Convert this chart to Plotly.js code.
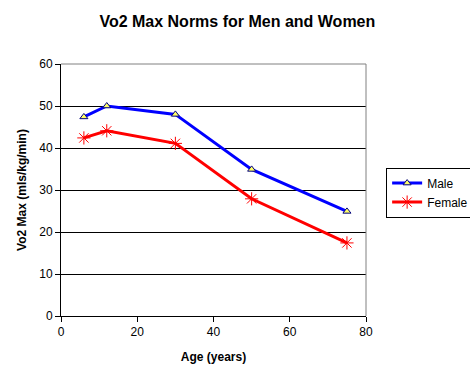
<!DOCTYPE html>
<html>
<head>
<meta charset="utf-8">
<script src="https://cdn.plot.ly/plotly-3.0.1.min.js"></script>
<style>html,body{margin:0;padding:0;background:#fff;}#chart{width:470px;height:381px;}</style>
</head>
<body>
<div id="chart"></div>
<script>
const ages = [6, 12, 30, 50, 75];
const maleVo2 = [47.4, 50, 48, 34.9, 24.9];
const femaleVo2 = [42.4, 44.1, 41.1, 27.9, 17.4];
const xTicks = [0, 20, 40, 60, 80];
const yTicks = [0, 10, 20, 30, 40, 50, 60];

const F = '"Liberation Sans", Arial, sans-serif';
const traces = [
  {x: ages, y: maleVo2, name: 'Male', type: 'scatter', mode: 'lines+markers',
   line: {color: '#0000ff', width: 3},
   marker: {symbol: 'triangle-up', size: 7, color: '#ffff66', line: {color: '#000080', width: 1}}},
  {x: ages, y: femaleVo2, name: 'Female', type: 'scatter', mode: 'lines+markers',
   line: {color: '#ff0000', width: 3},
   marker: {symbol: 'asterisk-open', size: 11, color: '#ff0000', line: {color: '#ff0000', width: 1}}}
];
const layout = {
  width: 470, height: 381,
  margin: {l: 61, r: 104, t: 64, b: 65, autoexpand: false},
  paper_bgcolor: '#ffffff', plot_bgcolor: '#ffffff',
  font: {family: F, size: 12, color: '#000'},
  title: {text: '<b>Vo2 Max Norms for Men and Women</b>', font: {family: F, size: 16, color: '#000'},
          x: 0.505, xanchor: 'center', y: 0.945, yanchor: 'middle'},
  xaxis: {range: [0, 80], tickvals: xTicks, ticktext: xTicks.map(String),
          showgrid: false, zeroline: false, showline: true, linecolor: '#000', linewidth: 1,
          ticks: 'outside', ticklen: 5, tickcolor: '#000', automargin: false,
          tickfont: {family: F, size: 12},
          title: {text: '<b>Age (years)</b>', font: {family: F, size: 12}, standoff: 14}},
  yaxis: {range: [0, 60], tickvals: yTicks, ticktext: yTicks.map(String),
          showgrid: true, gridcolor: '#000', gridwidth: 1, zeroline: false,
          showline: true, linecolor: '#000', linewidth: 1, automargin: false,
          ticks: 'outside', ticklen: 5, tickcolor: '#000',
          tickfont: {family: F, size: 12},
          title: {text: '<b>Vo2 Max (mls/kg/min)</b>', font: {family: F, size: 12}, standoff: 10}},
  showlegend: true,
  legend: {x: 1.066, y: 0.589, xanchor: 'left', yanchor: 'top',
           bordercolor: '#000', borderwidth: 1, bgcolor: '#fff',
           font: {family: F, size: 12}, tracegroupgap: 0, itemwidth: 30},
  shapes: [
    {type: 'line', xref: 'paper', yref: 'paper', x0: 0, x1: 1, y0: 1, y1: 1, line: {color: '#808080', width: 1}},
    {type: 'line', xref: 'paper', yref: 'paper', x0: 1, x1: 1, y0: 0, y1: 1, line: {color: '#808080', width: 1}}
  ]
};
Plotly.newPlot('chart', traces, layout, {displayModeBar: false, staticPlot: true});
</script>
</body>
</html>
